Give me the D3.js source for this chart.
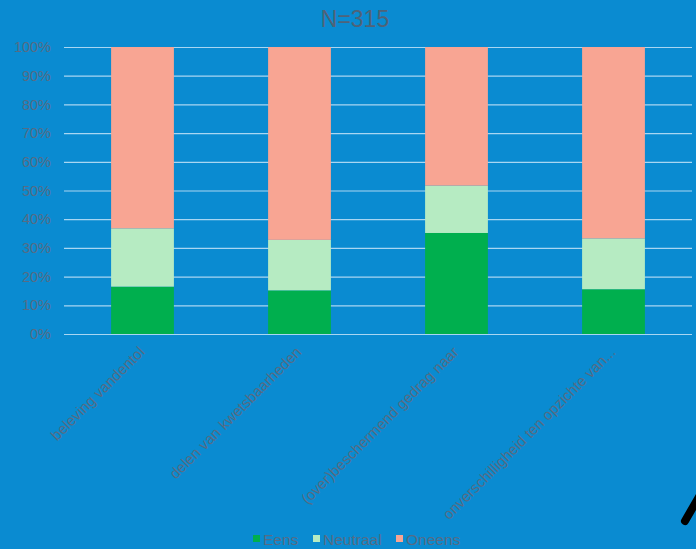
<!DOCTYPE html>
<html>
<head>
<meta charset="utf-8">
<script src="https://cdn.jsdelivr.net/npm/d3@7"></script>
<style>
  html, body { margin: 0; padding: 0; background: #0a8bd1; }
  svg { display: block; }
</style>
</head>
<body>
<svg id="chart" width="696" height="549"></svg>
<script>
// Response categories (x axis)
const categories = [
  "beleving vandentol",
  "delen van kwetsbaarheden",
  "(over)beschermend gedrag naar",
  "onverschilligheid ten opzichte van..."
];
// Share of respondents per answer, in percent
const eens     = [16.5, 15.2, 35.2, 15.6];
const neutraal = [20.3, 17.6, 16.5, 17.7];
const oneens   = [63.2, 67.2, 48.3, 66.7];
const seriesNames = ["Eens", "Neutraal", "Oneens"];
const seriesColors = ["#00af4e", "#b6ebc2", "#f8a593"];
const yTicks = [0, 10, 20, 30, 40, 50, 60, 70, 80, 90, 100];
const title = "N=315";

const svg = d3.select("#chart");
const W = 696, H = 549;
const plot = { left: 64, right: 692, top: 47, bottom: 334 };
const textColor = "#566c85";
const font = "Liberation Sans, Arial, sans-serif";

svg.append("rect").attr("width", W).attr("height", H).attr("fill", "#0a8bd1");

const x = d3.scaleBand().domain(categories).range([plot.left, plot.right]).paddingInner(0.6).paddingOuter(0.3);
const y = d3.scaleLinear().domain([0, 100]).range([plot.bottom, plot.top]);

// Gridlines and y labels
const yAxis = d3.axisLeft(y).tickValues(yTicks).tickSize(-(plot.right - plot.left)).tickFormat(d => d + "%").tickPadding(13);
const gy = svg.append("g").attr("transform", `translate(${plot.left},0)`).call(yAxis);
gy.select(".domain").remove();
gy.selectAll(".tick line").attr("stroke", "#a9d6f2").attr("stroke-width", 1.2);
gy.selectAll(".tick text").attr("fill", textColor).attr("font-family", font).attr("font-size", 14.5);

// Stacked bars
const rows = categories.map((c, i) => ({ cat: c, Eens: eens[i], Neutraal: neutraal[i], Oneens: oneens[i] }));
const stack = d3.stack().keys(seriesNames)(rows);
svg.append("g").selectAll("g").data(stack).join("g")
  .attr("fill", (d, i) => seriesColors[i])
  .selectAll("rect").data(d => d).join("rect")
  .attr("x", d => x(d.data.cat))
  .attr("width", x.bandwidth())
  .attr("y", d => y(d[1]))
  .attr("height", d => y(d[0]) - y(d[1]));

// Category labels, rotated
const xAxis = d3.axisBottom(x).tickSize(0).tickPadding(0);
const gx = svg.append("g").attr("transform", `translate(0,${plot.bottom})`).call(xAxis);
gx.select(".domain").remove();
gx.selectAll(".tick text")
  .attr("fill", textColor)
  .attr("font-family", font)
  .attr("font-size", 15)
  .attr("text-anchor", "end")
  .attr("dy", null)
  .attr("transform", "translate(3,19) rotate(-45)");

// Title
svg.append("text").attr("x", 355).attr("y", 27).attr("text-anchor", "middle")
  .attr("fill", "#4f6378").attr("font-family", font).attr("font-size", 23)
  .text(title);

// Legend
const legendX = [253, 313, 396];
const lg = svg.append("g").attr("font-family", font).attr("font-size", 15.5);
seriesNames.forEach((n, i) => {
  lg.append("rect").attr("x", legendX[i]).attr("y", 535).attr("width", 7).attr("height", 7).attr("fill", seriesColors[i]);
  lg.append("text").attr("x", legendX[i] + 10).attr("y", 545).attr("fill", textColor).text(n);
});

// Pen stroke in the lower right corner
svg.append("line").attr("x1", 685).attr("y1", 521).attr("x2", 700).attr("y2", 495)
  .attr("stroke", "#000").attr("stroke-width", 8).attr("stroke-linecap", "round");
</script>
</body>
</html>
